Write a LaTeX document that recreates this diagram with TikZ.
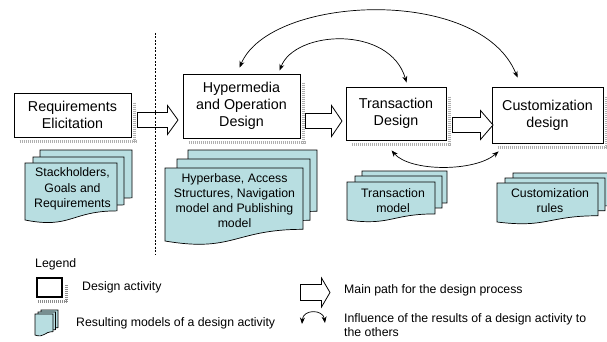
\documentclass[tikz,border=0pt]{standalone}
\usepackage{fontspec}
\setmainfont{Liberation Sans}
\usetikzlibrary{arrows.meta,calc}
\definecolor{docfill}{RGB}{184,222,225}
\definecolor{shadowgray}{RGB}{175,175,175}
\newcommand\docshape[4]{%
  \pgfmathsetmacro\dyr{#4-0.16*(#4-#2)}%
  \pgfmathsetmacro\dxm{(#1+#3)/2}%
  \pgfmathsetmacro\dyl{#4+0.16*(#4-#2)}%
  \filldraw[docsheet] (#1,#2) -- (#3,#2) -- (#3,\dyr) .. controls (\dxm,\dyr) and (\dxm,\dyl) .. (#1,#4) -- cycle;}
\newcommand\blockarrow[6]{%
  \filldraw[blockarr] (#1,#4-#5) -- (#2,#4-#5) -- (#2,#4-#6) -- (#3,#4) -- (#2,#4+#6) -- (#2,#4+#5) -- (#1,#4+#5) -- cycle;}
\newcommand\boxshadow[2]{%
  \draw[shadowband] ($(#1.north east)+(3.5,#2)$) -- ($(#1.south east)+(3.5,5)$);
  \draw[shadowband] ($(#1.south west)+(6,4.5)$) -- ($(#1.south east)+(5,4.5)$);}
\tikzset{
  activity/.style={draw=black, fill=white, line width=0.9pt, align=center, inner sep=0pt,
    font=\fontsize{14.3}{17}\selectfont},
  docsheet/.style={draw=black, fill=docfill, line width=0.7pt},
  doctext/.style={align=center, inner sep=0pt, font=\fontsize{12.3}{15.2}\selectfont},
  legtext/.style={align=left, inner sep=0pt, anchor=west, font=\fontsize{12.3}{14}\selectfont},
  shadowband/.style={draw=shadowgray, line width=3pt, dash pattern=on 0.6pt off 1.4pt},
  blockarr/.style={draw=black, fill=white, line width=0.8pt},
  influence/.style={draw=black, line width=0.7pt, {Stealth[length=6.5pt,width=5pt]}-{Stealth[length=6.5pt,width=5pt]}},
}
\begin{document}
\begin{tikzpicture}[x=1pt,y=-1pt]
\clip (0,0) rectangle (607,342);
\fill[white] (0,0) rectangle (607,342);

% design activities
\node[activity, minimum width=117pt, minimum height=44pt] (req) at (72.5,115) {Requirements\\Elicitation};
\node[activity, minimum width=117pt, minimum height=64pt] (hyp) at (241.5,106) {Hypermedia\\and Operation\\Design};
\node[activity, minimum width=100pt, minimum height=53pt] (tra) at (396,113.5) {Transaction\\Design};
\node[activity, minimum width=111pt, minimum height=56pt] (cus) at (547.5,115) {Customization\\design};
\boxshadow{req}{10}
\boxshadow{hyp}{9}
\boxshadow{tra}{10}
\boxshadow{cus}{10}

% main path arrows
\blockarrow{137.5}{167.5}{178}{120}{7.5}{14.5}
\blockarrow{305.5}{331.5}{342}{121}{7.5}{15.5}
\blockarrow{452.5}{480.5}{493}{125}{7.5}{14.5}

% separator
\draw[black, line width=0.7pt, dash pattern=on 2pt off 1.5pt] (155,33) -- (155,255);

% resulting models
\docshape{40}{150}{132}{207}
\docshape{33}{157}{124}{214}
\docshape{25}{163}{117}{220}
\node[doctext] (m1) at (72.5,189) {Stackholders,\\Goals and\\Requirements};

\docshape{188}{150}{317}{223}
\docshape{177}{159}{310}{232}
\docshape{165}{168}{303}{241}
\node[doctext] (m2) at (234.5,200.5) {Hyperbase, Access\\Structures, Navigation\\model and Publishing\\model};

\docshape{362}{171}{447}{209}
\docshape{355}{176}{442}{214}
\docshape{347}{182}{435}{220}
\node[doctext] (m3) at (393,201) {Transaction\\model};

\docshape{513}{173}{614}{212}
\docshape{505}{178}{605}{217}
\docshape{497}{183}{598}{222}
\node[doctext] (m4) at (550,201) {Customization\\rules};

% influences
\coordinate (h1) at ($(hyp.north west)+(57,-6)$);
\coordinate (h2) at ($(hyp.north west)+(97,-3)$);
\coordinate (t1) at ($(tra.north west)+(61,-4)$);
\coordinate (c1) at ($(cus.north west)+(26,-9)$);
\coordinate (t2) at ($(tra.south west)+(46,10)$);
\coordinate (c2) at ($(cus.south west)+(7,8)$);
\draw[influence] (h1) .. controls (270,-5) and (480,-15) .. (c1);
\draw[influence] (h2) .. controls (295,30) and (390,25) .. (t1);
\draw[influence] (t2) .. controls (410,172) and (475,172) .. (c2);

% legend
\node[legtext] (leg) at (35,264) {Legend};
\node[draw=black, fill=white, line width=1.5pt, minimum width=25pt, minimum height=19pt, inner sep=0pt] (lbox) at (49.5,287.5) {};
\draw[draw=shadowgray!80!black, line width=3pt, dash pattern=on 0.8pt off 1.2pt] ($(lbox.north east)+(3.5,8)$) -- ($(lbox.south east)+(3.5,4)$);
\draw[draw=shadowgray!80!black, line width=3pt, dash pattern=on 0.8pt off 1.2pt] ($(lbox.south west)+(2,4)$) -- ($(lbox.south east)+(5,4)$);
\node[legtext] (l1) at (82,287) {Design activity};

\docshape{41}{310}{58}{331}
\docshape{38}{312}{55.5}{333}
\docshape{35}{314}{53}{335}
\node[legtext] (l2) at (76,323) {Resulting models of a design activity};

\blockarrow{300.5}{321.5}{330}{292.5}{8}{14.5}
\node[legtext] (l3) at (344,290) {Main path for the design process};

\coordinate (la) at (302,324);
\coordinate (lb) at (325,323);
\draw[influence] (la) .. controls (303,309) and (323,309) .. (lb);
\node[legtext] (l4) at (344,325) {Influence of the results of a design activity to\\the others};
\end{tikzpicture}
\end{document}
